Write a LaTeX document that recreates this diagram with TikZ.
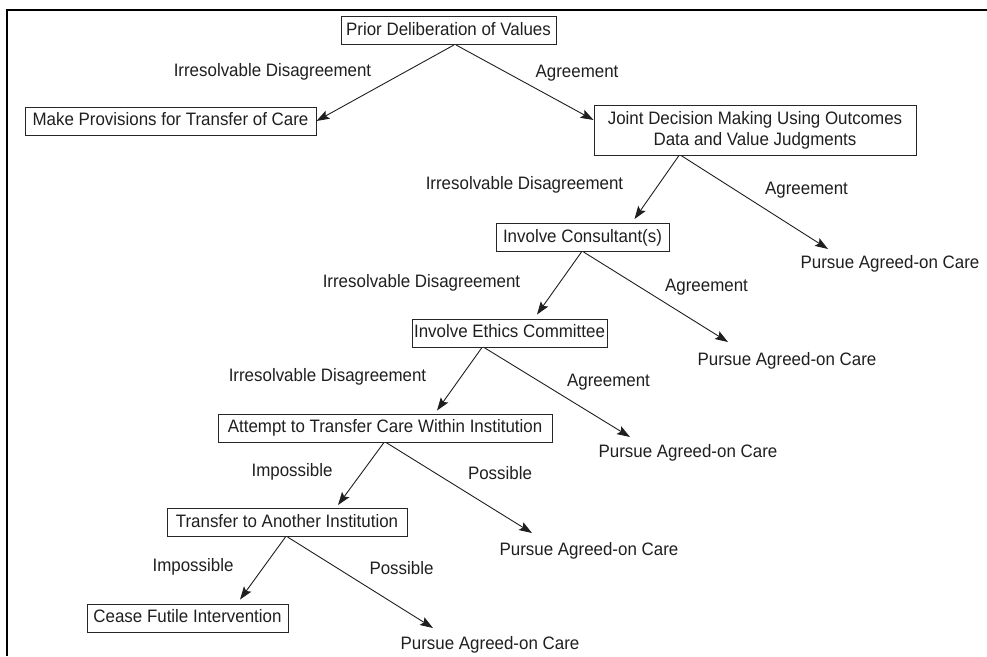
\documentclass[tikz,border=0pt]{standalone}
\usepackage{fontspec}
\setmainfont{Liberation Sans}[FakeStretch=0.94]
\usetikzlibrary{arrows.meta}
\begin{document}
\begin{tikzpicture}[x=1pt,y=-1pt,
  every node/.style={font=\fontsize{18}{21}\selectfont, text=black!88},
  boxbase/.style={draw=black!85, line width=0.9pt, inner xsep=2pt, inner ysep=0pt, anchor=center},
  box/.style={boxbase, minimum height=28pt, text height=13pt, text depth=3.5pt},
  lbl/.style={inner sep=0pt, text height=13pt, text depth=3.5pt, anchor=center},
  arr/.style={draw=black!88, line width=0.9pt, -{Stealth[length=13pt,width=9pt,inset=2.5pt]}},
  frameline/.style={draw=black, line width=2pt}]
\useasboundingbox (0,0) rectangle (987,656);
% frame
\coordinate (fa) at (7,656);
\coordinate (fb) at (7,10);
\coordinate (fc) at (987,10);
\draw[frameline] (fa) -- (fb) -- (fc);
% boxes
\node[box, minimum width=215pt] (prior) at (448.5,30.5) {Prior Deliberation of Values};
\node[box, minimum width=291pt] (make) at (170.5,121) {Make Provisions for Transfer of Care};
\node[boxbase, minimum width=322pt, minimum height=50pt, align=center] (joint) at (755,130) {Joint Decision Making Using Outcomes\\Data and Value Judgments};
\node[box, minimum width=173pt] (cons) at (582.5,237.5) {Involve Consultant(s)};
\node[box, minimum width=159pt] (ethics) at (509.5,333) {Involve Ethics Committee};
\node[box, minimum width=334pt] (attempt) at (385,428) {Attempt to Transfer Care Within Institution};
\node[box, minimum width=240pt] (transfer) at (287,522.5) {Transfer to Another Institution};
\node[box, minimum width=201pt] (cease) at (187.5,618) {Cease Futile Intervention};
% outcomes
\node[lbl] (p1) at (890,264) {Pursue Agreed-on Care};
\node[lbl] (p2) at (787,361) {Pursue Agreed-on Care};
\node[lbl] (p3) at (688,453) {Pursue Agreed-on Care};
\node[lbl] (p4) at (589,551) {Pursue Agreed-on Care};
\node[lbl] (p5) at (490,645) {Pursue Agreed-on Care};
% labels
\node[lbl] (l1) at (272.5,72) {Irresolvable Disagreement};
\node[lbl] (l2) at (577,73) {Agreement};
\node[lbl] (l3) at (524.5,185) {Irresolvable Disagreement};
\node[lbl] (l4) at (806.5,190) {Agreement};
\node[lbl] (l5) at (421.5,283) {Irresolvable Disagreement};
\node[lbl] (l6) at (706.5,287) {Agreement};
\node[lbl] (l7) at (327.5,377) {Irresolvable Disagreement};
\node[lbl] (l8) at (608.5,382) {Agreement};
\node[lbl] (l9) at (292,472) {Impossible};
\node[lbl] (l10) at (500,475) {Possible};
\node[lbl] (l11) at (193,567) {Impossible};
\node[lbl] (l12) at (401.5,570) {Possible};
% connectors
\draw[arr] ([xshift=5.5pt]prior.south) -- (make.east);
\draw[arr] ([xshift=7.5pt]prior.south) -- ([yshift=10pt]joint.west);
\draw[arr] ([xshift=-76pt]joint.south) -- ([xshift=52pt,yshift=4pt]cons.north);
\draw[arr] ([xshift=-74pt]joint.south) -- ([xshift=-62pt,yshift=15pt]p1.center);
\draw[arr] ([xshift=-1pt]cons.south) -- ([xshift=27.5pt,yshift=4pt]ethics.north);
\draw[arr] ([xshift=1pt]cons.south) -- ([xshift=-59pt,yshift=19pt]p2.center);
\draw[arr] ([xshift=-27.5pt]ethics.south) -- ([xshift=52pt,yshift=3pt]attempt.north);
\draw[arr] ([xshift=-25.5pt]ethics.south) -- ([xshift=-58pt,yshift=16pt]p3.center);
\draw[arr] ([xshift=-1pt]attempt.south) -- ([xshift=51pt,yshift=3pt]transfer.north);
\draw[arr] ([xshift=1pt]attempt.south) -- ([xshift=-57pt,yshift=18pt]p4.center);
\draw[arr] ([xshift=-1.5pt]transfer.south) -- ([xshift=52.5pt,yshift=4pt]cease.north);
\draw[arr] ([xshift=0.5pt]transfer.south) -- ([xshift=-57pt,yshift=17pt]p5.center);
\end{tikzpicture}
\end{document}
